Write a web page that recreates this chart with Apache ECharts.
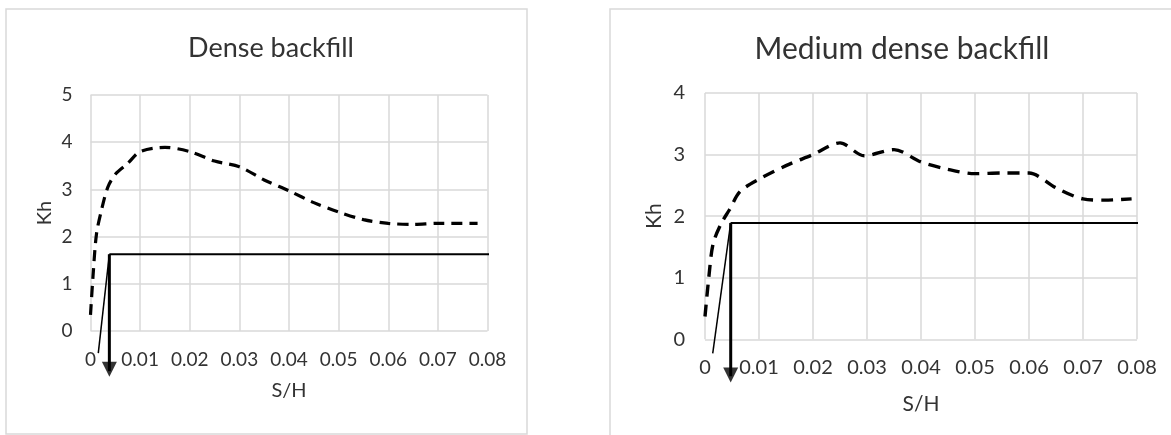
<!DOCTYPE html>
<html>
<head>
<meta charset="utf-8">
<script src="https://cdn.jsdelivr.net/npm/echarts@6/dist/echarts.min.js"></script>
<style>
html,body{margin:0;padding:0;background:#fff;}
#chart{width:1171px;height:435px;}
</style>
</head>
<body>
<div id="chart"></div>
<script>
// ---- data ----
const titles = ['Dense backfill', 'Medium dense backfill'];
const xTickLabels = ['0', '0.01', '0.02', '0.03', '0.04', '0.05', '0.06', '0.07', '0.08'];
const xName = 'S/H';
const yName = 'Kh';

const denseX  = [0, 0.0005, 0.0012, 0.0023, 0.0035, 0.005, 0.0075, 0.01, 0.015, 0.02, 0.025, 0.03, 0.035, 0.04, 0.045, 0.05, 0.055, 0.06, 0.065, 0.07, 0.078];
const denseKh = [0.34, 1.15, 2.05, 2.6, 3.05, 3.32, 3.55, 3.8, 3.89, 3.8, 3.6, 3.48, 3.2, 2.97, 2.72, 2.52, 2.36, 2.28, 2.26, 2.28, 2.28];

const mediumX  = [0, 0.0007, 0.0015, 0.003, 0.0045, 0.0065, 0.01, 0.015, 0.02, 0.025, 0.0295, 0.035, 0.04, 0.045, 0.05, 0.055, 0.06, 0.065, 0.07, 0.074, 0.079];
const mediumKh = [0.37, 1.0, 1.55, 1.88, 2.1, 2.4, 2.6, 2.82, 3.0, 3.19, 2.98, 3.08, 2.88, 2.76, 2.69, 2.7, 2.7, 2.46, 2.28, 2.26, 2.28];

// construction lines: [x, Kh] points
const denseLimitLine   = [[0.0038, 1.625], [0.0892, 1.625]];
const denseArrowLine   = [[0.0038, 1.625], [0.0038, -0.85]];
const denseArrowHead   = [[0.0038, -0.81]];
const denseTangentLine = [[0.00157, -0.47], [0.0038, 1.625]];

const mediumLimitLine   = [[0.00476, 1.89], [0.0861, 1.89]];
const mediumArrowLine   = [[0.00476, 1.89], [0.00476, -0.6]];
const mediumArrowHead   = [[0.00476, -0.58]];
const mediumTangentLine = [[0.00143, -0.23], [0.00476, 1.89]];

// ---- chart ----
const zip = (xs, ys) => xs.map((x, i) => [x, ys[i]]);
const FONT = 'Lato';
const TXT = '#333333';
const GRID = '#d9d9d9';

function xAxis(gridIndex, fs, margin, nameGap) {
  return {
    type: 'value', gridIndex, min: 0, max: 0.08, interval: 0.01,
    axisLine: {show: false}, axisTick: {show: false},
    splitLine: {show: true, lineStyle: {color: GRID, width: 1.5}},
    axisLabel: {color: TXT, fontFamily: FONT, fontSize: fs, margin,
      formatter: v => xTickLabels[Math.round(v / 0.01)]},
    name: xName, nameLocation: 'middle', nameGap,
    nameTextStyle: {color: TXT, fontFamily: FONT, fontSize: fs + 1}
  };
}
function yAxis(gridIndex, max, fs, margin, nameGap) {
  return {
    type: 'value', gridIndex, min: 0, max, interval: 1,
    axisLine: {show: false}, axisTick: {show: false},
    splitLine: {show: true, lineStyle: {color: GRID, width: 1.5}},
    axisLabel: {color: TXT, fontFamily: FONT, fontSize: fs, margin},
    name: yName, nameLocation: 'middle', nameGap,
    nameTextStyle: {color: TXT, fontFamily: FONT, fontSize: fs + 1}
  };
}
function curve(idx, data, dash, w) {
  return {type: 'line', xAxisIndex: idx, yAxisIndex: idx, data, smooth: 0.3,
    showSymbol: false, symbol: 'none', clip: false, z: 3,
    lineStyle: {color: '#000', width: w, type: dash, cap: 'butt'}};
}
function solid(idx, data, w) {
  return {type: 'line', xAxisIndex: idx, yAxisIndex: idx, data, symbol: 'none',
    clip: false, z: 4, lineStyle: {color: '#000', width: w}};
}
function head(idx, data, size) {
  return {type: 'scatter', xAxisIndex: idx, yAxisIndex: idx, data, clip: false, z: 5,
    symbol: 'triangle', symbolRotate: 180, symbolSize: size,
    itemStyle: {color: '#000'}};
}

const chart = echarts.init(document.getElementById('chart'), null, {renderer: 'canvas'});
chart.setOption({
  animation: false,
  backgroundColor: '#fff',
  title: [
    {text: titles[0], left: 266, top: 30, textAlign: 'center',
      textStyle: {color: TXT, fontFamily: FONT, fontSize: 27, fontWeight: 'normal'}},
    {text: titles[1], left: 897, top: 29, textAlign: 'center',
      textStyle: {color: TXT, fontFamily: FONT, fontSize: 30, fontWeight: 'normal'}}
  ],
  graphic: [
    {type: 'rect', shape: {x: 6, y: 9, width: 521, height: 425}, silent: true, z: -1,
      style: {fill: '#fff', stroke: GRID, lineWidth: 1.5}},
    {type: 'rect', shape: {x: 610, y: 9, width: 600, height: 500}, silent: true, z: -1,
      style: {fill: '#fff', stroke: GRID, lineWidth: 1.5}}
  ],
  grid: [
    {left: 90.5, top: 95, width: 397, height: 236},
    {left: 705, top: 93, width: 432, height: 246.3}
  ],
  xAxis: [xAxis(0, 19, 19, 50), xAxis(1, 20, 18, 54)],
  yAxis: [yAxis(0, 5, 19, 18, 36), yAxis(1, 4, 20, 20, 40)],
  series: [
    curve(0, zip(denseX, denseKh), [11, 7], 3.2),
    solid(0, denseLimitLine, 2),
    solid(0, denseTangentLine, 1.5),
    solid(0, denseArrowLine, 3),
    head(0, denseArrowHead, [15, 15]),
    curve(1, zip(mediumX, mediumKh), [12, 8], 3.4),
    solid(1, mediumLimitLine, 2),
    solid(1, mediumTangentLine, 1.5),
    solid(1, mediumArrowLine, 3),
    head(1, mediumArrowHead, [15, 15])
  ]
});
</script>
</body>
</html>
